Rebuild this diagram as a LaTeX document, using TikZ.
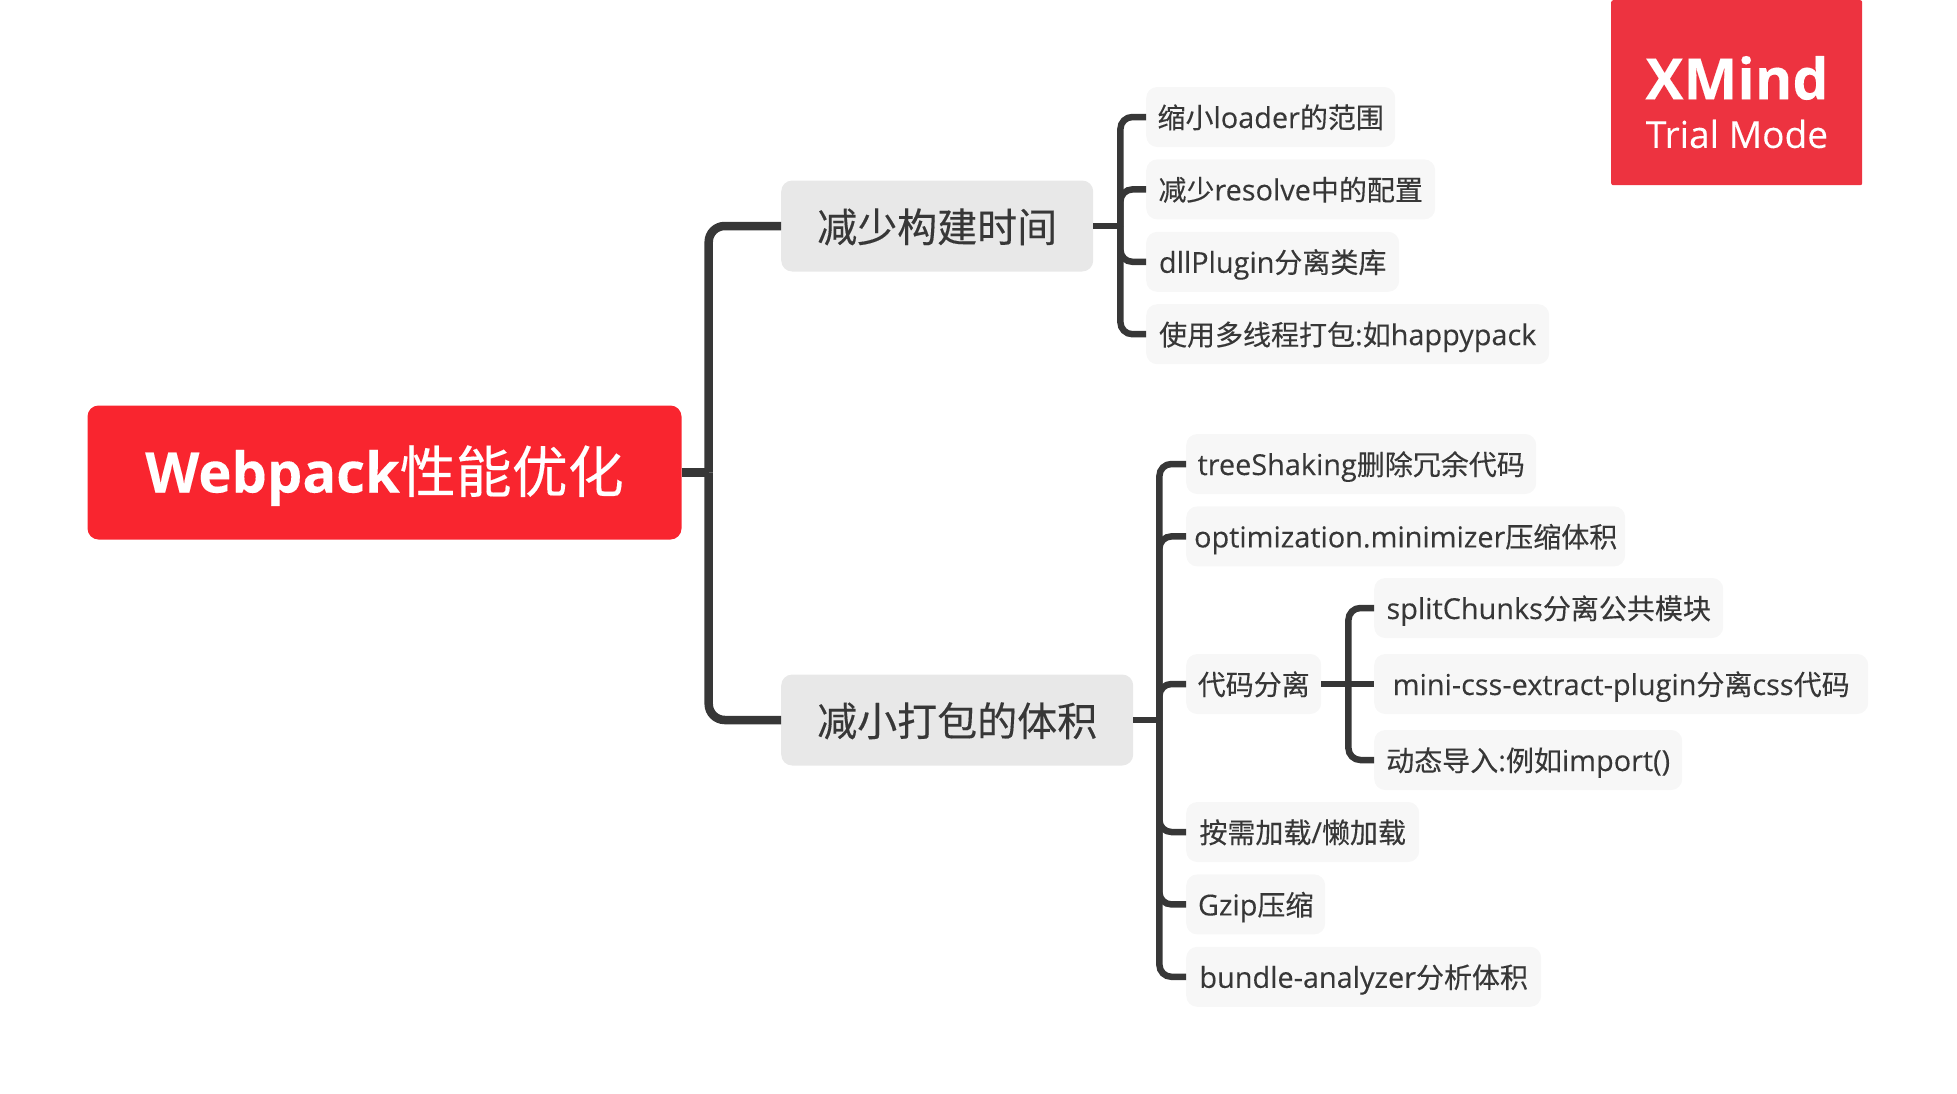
\documentclass[tikz,border=0pt]{standalone}
\usepackage{fontspec}
\setmainfont{Open Sans}[Scale=1.03, FakeBold=0.15]
\newfontfamily\cjk[FakeBold=0.25]{Noto Sans CJK SC}
\newcommand{\zh}[1]{{\cjk #1}}
\usetikzlibrary{positioning}
\definecolor{rootred}{HTML}{F9252F}
\definecolor{markred}{HTML}{ED3340}
\definecolor{linegray}{HTML}{373737}
\definecolor{subgray}{HTML}{E8E8E8}
\definecolor{leafgray}{HTML}{F7F7F7}

\begin{document}
\begin{tikzpicture}[
      x=1pt, y=-1pt,
      rootbox/.style={rectangle, rounded corners=11pt, fill=rootred, text=white,
                  minimum width=594pt, minimum height=134pt, inner sep=0pt,
                  text height=50pt, text depth=10pt,
                  font=\fontsize{56}{66}\selectfont},
      subbox/.style={rectangle, rounded corners=11pt, fill=subgray, text=linegray,
                  minimum height=91pt, inner sep=0pt, anchor=west,
                  text height=36pt, text depth=4pt,
                  font=\fontsize{40}{48}\selectfont},
      leaf/.style={rectangle, rounded corners=11pt, fill=leafgray, text=linegray,
                  minimum height=60pt, inner sep=0pt, anchor=west,
                  text height=26pt, text depth=4pt,
                  font=\fontsize{28}{34}\selectfont},
      under/.style={below=12pt of #1.south west, anchor=north west},
      conn/.style={draw=linegray, line width=8.5pt, rounded corners=16pt},
      twig/.style={draw=linegray, line width=6.5pt, rounded corners=12pt}
    ]
    \useasboundingbox (0,0) rectangle (1957,1093);

    \node[rectangle, rounded corners=2pt, fill=markred, minimum width=251pt, minimum height=185pt, anchor=north west, inner sep=0pt] (mark) at (1611,0) {};
    \node[text=white, font=\fontsize{55.5}{68}\bfseries\selectfont] (xmind) at (1737,78) {XMind};
    \node[text=white, font=\fontsize{36}{42}\selectfont] (trial) at (1737,134) {Trial Mode};

    \node[rootbox] (root) at (384.5,472.5) {{\fontsize{54.4}{66}\selectfont\textbf{Webpack}}\zh{性能优化}};
    \node[subbox, minimum width=312pt] (buildtime) at (781,226) {\zh{减少构建时间}};
    \node[subbox, minimum width=352pt] (bundlesize) at (781,720) {\zh{减小打包的体积}};

    \node[leaf, minimum width=249pt] (loader) at (1146,117) {\zh{缩小}loader\zh{的范围}};
    \node[leaf, minimum width=289pt, under=loader] (resolve) {\zh{减少}resolve\zh{中的配置}};
    \node[leaf, minimum width=253pt, under=resolve] (dll) {dllPlugin\zh{分离类库}};
    \node[leaf, minimum width=403pt, under=dll] (thread) {\zh{使用多线程打包}:\zh{如}happypack};

    \node[leaf, minimum width=350pt] (tree) at (1186,464) {treeShaking\zh{删除冗余代码}};
    \node[leaf, minimum width=439pt, under=tree] (minim) {optimization.minimizer\zh{压缩体积}};
    \node[leaf, minimum width=135pt] (split) at (1186,684) {\zh{代码分离}};
    \node[leaf, minimum width=233pt] (lazy) at (1186,832) {\zh{按需加载}/\zh{懒加载}};
    \node[leaf, minimum width=139pt, under=lazy] (gzip) {Gzip\zh{压缩}};
    \node[leaf, minimum width=355pt, under=gzip] (analyzer) {bundle-analyzer\zh{分析体积}};

    \node[leaf, minimum width=349pt] (chunks) at (1374,608) {splitChunks\zh{分离公共模块}};
    \node[leaf, minimum width=494pt] (extract) at (1374,684) {mini-css-extract-plugin\zh{分离}css\zh{代码}};
    \node[leaf, minimum width=308pt] (dynamic) at (1374,760) {\zh{动态导入}:\zh{例如}import()};

    \coordinate[right=27pt of root.east] (roottrunk);
    \coordinate[right=27pt of buildtime.east] (buildtrunk);
    \coordinate[right=26pt of bundlesize.east] (sizetrunk);
    \coordinate[right=27pt of split.east] (splittrunk);

    \draw[conn] (root.east) -- (roottrunk);
    \draw[conn] (roottrunk) |- (buildtime.west);
    \draw[conn] (roottrunk) |- (bundlesize.west);

    \draw[twig] (buildtime.east) -- (buildtrunk);
    \foreach \kid in {loader, resolve, dll, thread}
      \draw[twig] (buildtrunk) |- (\kid.west);

    \draw[twig] (bundlesize.east) -- (sizetrunk);
    \foreach \kid in {tree, minim, split, lazy, gzip, analyzer}
      \draw[twig] (sizetrunk) |- (\kid.west);

    \draw[twig] (split.east) -- (splittrunk);
    \draw[twig] (splittrunk) |- (chunks.west);
    \draw[twig] (splittrunk) -- (extract.west);
    \draw[twig] (splittrunk) |- (dynamic.west);
  \end{tikzpicture}
\end{document}
